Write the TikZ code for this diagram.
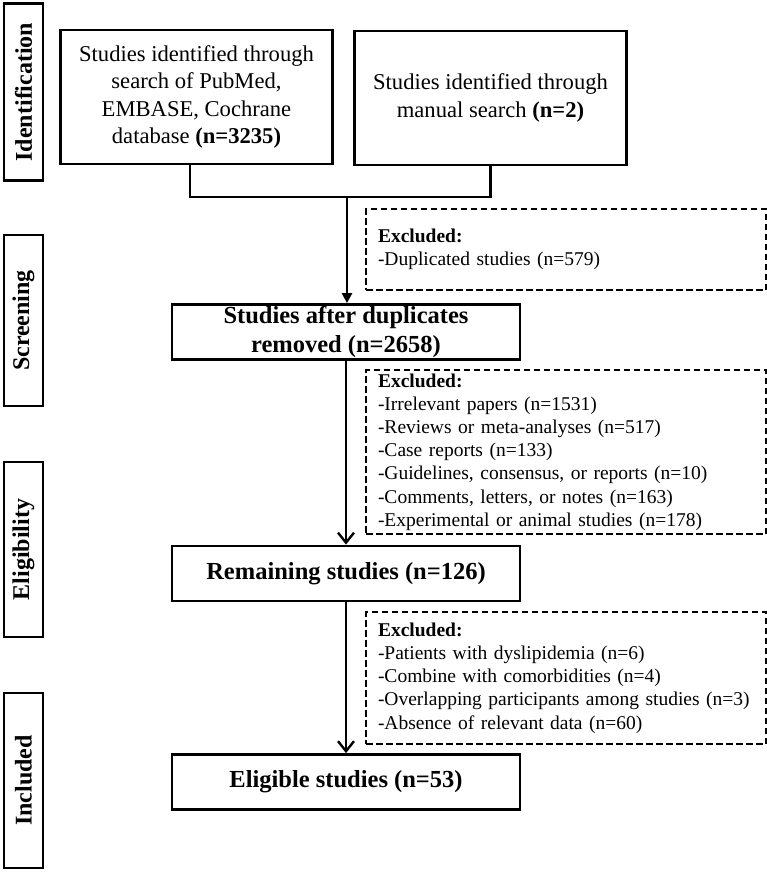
\documentclass[tikz,border=0pt]{standalone}
\usepackage{fontspec}
\setmainfont{Liberation Serif}
\usetikzlibrary{arrows.meta}

\begin{document}
\begin{tikzpicture}[x=1pt,y=-1pt,
	phase/.style={draw, line width=2.8pt, rotate=90, minimum height=39pt, inner sep=0pt, font=\fontsize{24}{28}\selectfont\bfseries},
	srcbox/.style={draw, line width=2.8pt, minimum width=272pt, minimum height=134pt, align=center, font=\fontsize{22.6}{27.5}\selectfont},
	mainbox/.style={draw, line width=2.8pt, minimum width=348pt, minimum height=55pt, inner sep=0pt, align=center, font=\fontsize{24.5}{29}\selectfont\bfseries},
	exclbox/.style={draw, line width=2.5pt, dash pattern=on 6.5pt off 3.5pt, text width=376pt, inner xsep=12pt, inner ysep=0pt, align=left, font=\fontsize{19.5}{23.2}\selectfont},
	link/.style={line width=2.4pt},
	fillarrow/.style={link, -{Triangle[length=10pt,width=10pt]}},
	barbarrow/.style={link, -{Straight Barb[length=10pt,width=16pt]}}]
	\useasboundingbox (0,0) rectangle (767,873);
	
	% Phase labels on the left
	\foreach \name/\y/\len in {Identification/92/177, Screening/320.5/171, Eligibility/549.5/175, Included/780.5/175} {
		\node[phase, minimum width=\len pt] (\name) at (23.5,\y) {\name};
	}
	
	% Identification
	\node[srcbox] (pubmed) at (196.5,97) {Studies identified through\\search of PubMed,\\EMBASE, Cochrane\\database \textbf{(n=3235)}};
	\node[srcbox] (manual) at (490.5,98) {Studies identified through\\manual search \textbf{(n=2)}};
	\coordinate (join) at (347,197);
	
	% Screening
	\node[mainbox] (dedup) at (346,332) {Studies after duplicates\\removed (n=2658)};
	\node[exclbox, minimum height=81pt] (excl1) at (566,249.5) {\textbf{Excluded:}\\-Duplicated studies (n=579)};
	
	% Eligibility
	\node[exclbox, minimum height=164pt] (excl2) at (566,452) {\textbf{Excluded:}\\-Irrelevant papers (n=1531)\\-Reviews or meta-analyses (n=517)\\-Case reports (n=133)\\-Guidelines, consensus, or reports (n=10)\\-Comments, letters, or notes (n=163)\\-Experimental or animal studies (n=178)};
	\node[mainbox] (remain) at (346,573.5) {Remaining studies (n=126)};
	
	% Included
	\node[exclbox, minimum height=132pt] (excl3) at (566,678) {\textbf{Excluded:}\\-Patients with dyslipidemia (n=6)\\-Combine with comorbidities (n=4)\\-Overlapping participants among studies (n=3)\\-Absence of relevant data (n=60)};
	\node[mainbox] (eligible) at (346,782) {Eligible studies (n=53)};
	
	% Connectors
	\draw[link] ([xshift=-6.5pt]pubmed.south) |- (join) -| (manual.south);
	\draw[fillarrow] (join) -- (join |- dedup.north);
	\draw[barbarrow] (dedup) -- (remain);
	\draw[barbarrow] (remain) -- (eligible);
\end{tikzpicture}
\end{document}
